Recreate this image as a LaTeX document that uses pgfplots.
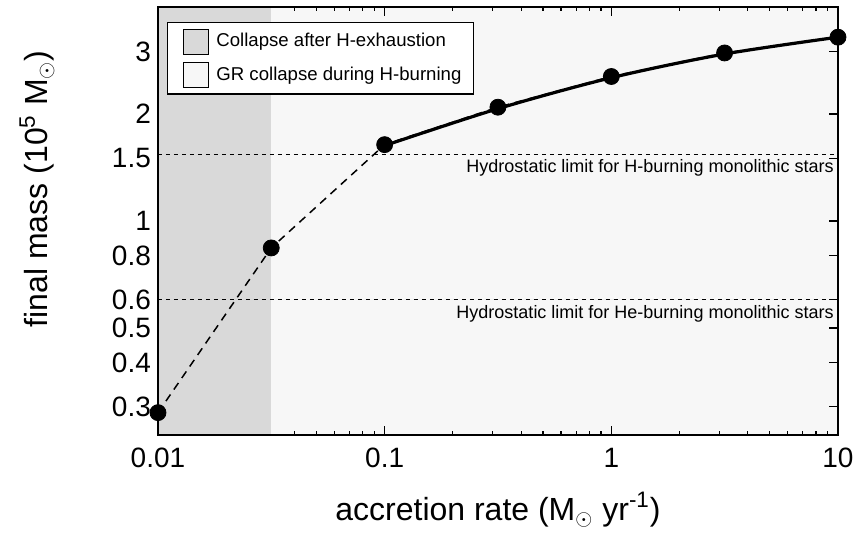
\documentclass[border=0pt]{standalone}
\usepackage{pgfplots}
\pgfplotsset{compat=1.18}
\usepackage{fontspec}
\setmainfont{Liberation Sans}
\definecolor{darkshade}{RGB}{217,217,217}
\definecolor{lightshade}{RGB}{247,247,247}
\begin{document}
\begin{tikzpicture}
\begin{axis}[
  scale only axis, width=340pt, height=214pt,
  xmode=log, ymode=log,
  xmin=0.01, xmax=10, ymin=0.25, ymax=4,
  axis background/.style={fill=lightshade},
  axis line style={line width=0.75pt},
  tick style={black, line width=0.6pt},
  tick align=inside,
  major tick length=4.5pt, minor tick length=2.2pt,
  xtick={0.01,0.1,1,10}, xticklabels={0.01,0.1,1,10},
  minor xtick={0.02,0.03,0.04,0.05,0.06,0.07,0.08,0.09,0.2,0.3,0.4,0.5,0.6,0.7,0.8,0.9,2,3,4,5,6,7,8,9},
  ytick={0.3,0.4,0.5,0.6,0.8,1,1.5,2,3},
  yticklabels={0.3,0.4,0.5,0.6,0.8,1,1.5,2,3},
  minor ytick={},
  ticklabel style={font=\fontsize{14}{16}\selectfont},
  xticklabel style={yshift=-3pt},
  xlabel={accretion rate (M\textsubscript{$\odot$} yr\textsuperscript{-1})},
  ylabel={final mass (10\textsuperscript{5} M\textsubscript{$\odot$})},
  label style={font=\fontsize{16}{18}\selectfont},
  xlabel style={at={(axis description cs:0.5,-0.175)}, anchor=center},
  ylabel style={at={(axis description cs:-0.178,0.575)}, anchor=center},
  legend cell align=left,
  legend style={at={(0.013,0.965)}, anchor=north west, draw=black, line width=0.6pt,
    font=\fontsize{9.3}{11}\selectfont, row sep=3.5pt, inner xsep=4pt, inner ysep=3pt, fill=white},
  legend image code/.code={\path[draw=none, fill=none] (-4pt,0pt) -- (14.5pt,0pt); \draw[#1, line width=0.6pt] (0pt,-6.25pt) rectangle (12.5pt,6.25pt);},
  clip=false,
]
\addlegendimage{fill=darkshade, draw=black}
\addlegendentry{Collapse after H-exhaustion}
\addlegendimage{fill=lightshade, draw=black}
\addlegendentry{GR collapse during H-burning}
\fill[darkshade] (axis cs:0.01,0.25) rectangle (axis cs:0.0316,4);
\addplot[black, line width=0.6pt, dash pattern=on 2pt off 2pt, forget plot] coordinates {(0.01,1.54) (10,1.54)};
\addplot[black, line width=0.6pt, dash pattern=on 2pt off 2pt, forget plot] coordinates {(0.01,0.6) (10,0.6)};
\node[anchor=north east, font=\fontsize{9}{11}\selectfont, inner sep=1pt] at (axis cs:9.8,1.51) {Hydrostatic limit for H-burning monolithic stars};
\node[anchor=north east, font=\fontsize{9}{11}\selectfont, inner sep=1pt] at (axis cs:9.8,0.588) {Hydrostatic limit for He-burning monolithic stars};
\addplot[black, line width=0.75pt, dash pattern=on 4pt off 3pt, forget plot] coordinates {
(0.01,0.289) (0.0316,0.84) (0.1,1.64) (0.316,2.09) (1,2.55) (3.16,2.97) (10,3.29)};
\addplot[black, line width=1.6pt, smooth, forget plot] coordinates {
(0.1,1.63) (0.316,2.07) (1,2.53) (3.16,2.95) (10,3.29)};
\addplot[only marks, mark=*, mark size=4pt, black, forget plot] coordinates {
(0.01,0.289) (0.0316,0.84) (0.1,1.64) (0.316,2.09) (1,2.55) (3.16,2.97) (10,3.29)};
\draw[line width=0.75pt] (rel axis cs:0,0) rectangle (rel axis cs:1,1);
\end{axis}
\pgfresetboundingbox
\path (-79pt,-50pt) rectangle (352.5pt,217.5pt);
\end{tikzpicture}
\end{document}
